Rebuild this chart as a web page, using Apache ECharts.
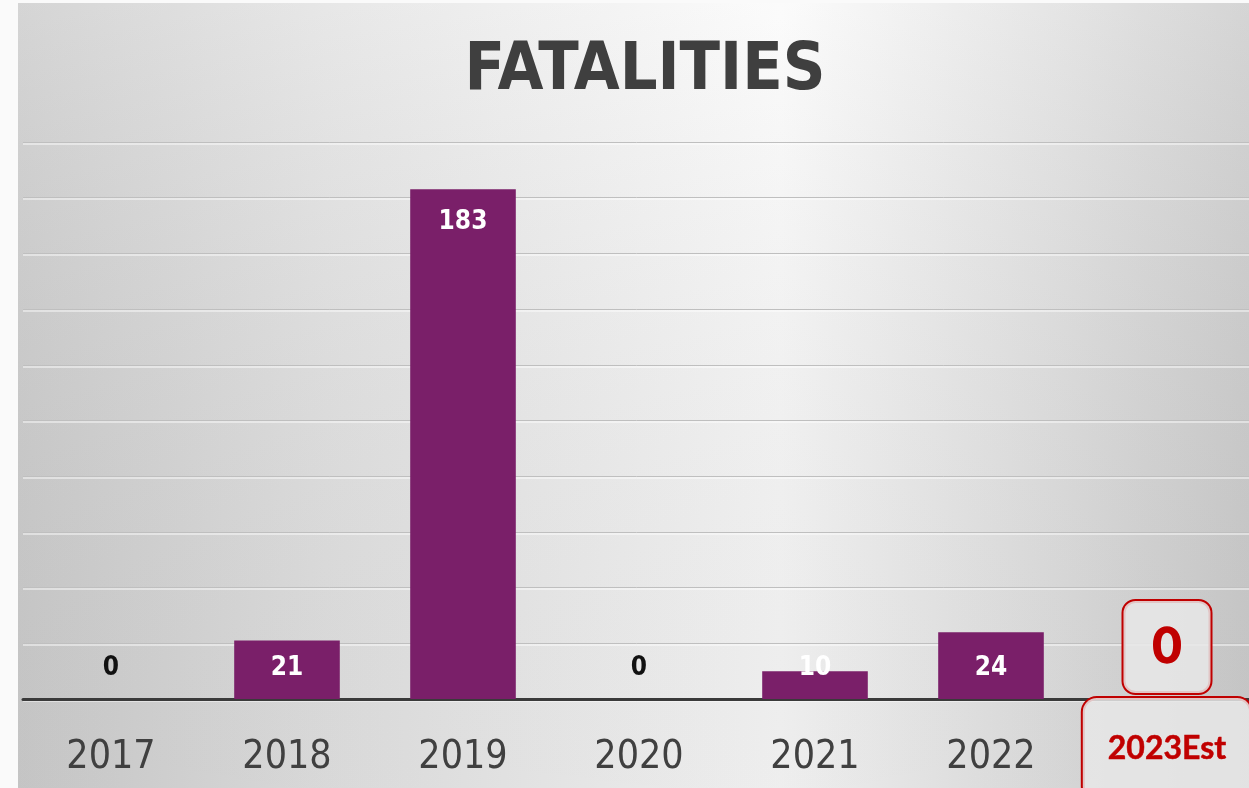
<!DOCTYPE html>
<html>
<head>
<meta charset="utf-8">
<style>
  html, body { margin: 0; padding: 0; background: #fafafa; }
  #chart { width: 1249px; height: 788px; }
</style>
<script src="https://cdn.jsdelivr.net/npm/echarts@6/dist/echarts.min.js"></script>
</head>
<body>
<div id="chart"></div>
<script>
// Yearly fatalities
const years = ['2017', '2018', '2019', '2020', '2021', '2022', '2023Est'];
const fatalities = [0, 21, 183, 0, 10, 24, 0];
const yTicks = { min: 0, max: 200, interval: 20 };

const BAR = '#7a1f69';
const RED = '#c00000';
const NARROW = '"Liberation Sans Narrow", "DejaVu Sans Condensed", sans-serif';

function labelFor(v, i) {
  const est = years[i].indexOf('Est') >= 0;
  if (est) {
    return {
      position: 'insideBottom', distance: 6,
      color: RED, fontFamily: 'Lato', fontWeight: 'bold', fontSize: 50, lineHeight: 50,
      textBorderColor: RED, textBorderWidth: 1.5,
      backgroundColor: 'rgba(232,232,232,0.85)', borderColor: RED, borderWidth: 2,
      borderRadius: 12, padding: [21, 29]
    };
  }
  if (v === 0) return { position: 'insideBottom', distance: 18, color: '#111' };
  if (v > 100) return { position: 'insideTop', distance: 20, color: '#fff' };
  return { position: 'insideBottom', distance: 18, color: '#fff' };
}

const chart = echarts.init(document.getElementById('chart'), null, { renderer: 'canvas' });

chart.setOption({
  animation: false,
  backgroundColor: '#fafafa',
  graphic: [
    {
      type: 'rect', z: -10, silent: true,
      shape: { x: 18, y: 3, width: 1231, height: 785 },
      style: {
        fill: new echarts.graphic.LinearGradient(0, 0, 1, 0, [
          { offset: 0, color: '#cfcfcf' },
          { offset: 0.25, color: '#e4e4e4' },
          { offset: 0.62, color: '#fbfbfb' },
          { offset: 0.85, color: '#e1e1e1' },
          { offset: 1, color: '#cfcfcf' }
        ])
      }
    },
    {
      type: 'rect', z: -9, silent: true,
      shape: { x: 18, y: 3, width: 1231, height: 785 },
      style: {
        fill: new echarts.graphic.LinearGradient(0, 0, 0, 1, [
          { offset: 0, color: 'rgba(255,255,255,0.12)' },
          { offset: 1, color: 'rgba(0,0,0,0.05)' }
        ])
      }
    }
  ],
  title: {
    text: 'FATALITIES',
    left: 640,
    top: 34,
    textAlign: 'center',
    textStyle: {
      fontFamily: NARROW,
      fontWeight: 'bold',
      fontSize: 66,
      color: '#3f3f3f'
    }
  },
  grid: {
    left: 23, width: 1232, top: 142, height: 557,
    containLabel: false, outerBoundsMode: 'none'
  },
  xAxis: {
    type: 'category',
    data: years,
    axisLine: { lineStyle: { color: '#3a3a3a', width: 3 } },
    axisTick: { show: false },
    axisLabel: {
      margin: 37,
      interval: 0,
      formatter: function (v) {
        return v.indexOf('Est') >= 0 ? '{est|' + v + '}' : '{yr|' + v + '}';
      },
      rich: {
        yr: {
          fontFamily: NARROW, fontSize: 39, lineHeight: 44,
          color: '#404040'
        },
        est: {
          fontFamily: 'Lato', fontWeight: 'bold', fontSize: 32, lineHeight: 26,
          color: RED, textBorderColor: RED, textBorderWidth: 0.5,
          backgroundColor: 'rgba(232,232,232,0.85)',
          borderColor: RED, borderWidth: 2, borderRadius: 14,
          padding: [35, 25, 35, 25]
        }
      }
    }
  },
  yAxis: {
    type: 'value',
    min: yTicks.min,
    max: yTicks.max,
    interval: yTicks.interval,
    axisLabel: { show: false },
    axisLine: { show: false },
    axisTick: { show: false },
    splitLine: {
      lineStyle: {
        color: '#bfbfbf', width: 1,
        shadowColor: 'rgba(255,255,255,0.9)', shadowOffsetY: 1.5, shadowBlur: 0
      }
    }
  },
  series: [{
    type: 'bar',
    barWidth: '60%',
    itemStyle: { color: BAR },
    label: {
      show: true,
      fontFamily: NARROW,
      fontWeight: 'bold',
      fontSize: 26,
      lineHeight: 26
    },
    data: fatalities.map((v, i) => ({ value: v, label: labelFor(v, i) }))
  }]
});
</script>
</body>
</html>
